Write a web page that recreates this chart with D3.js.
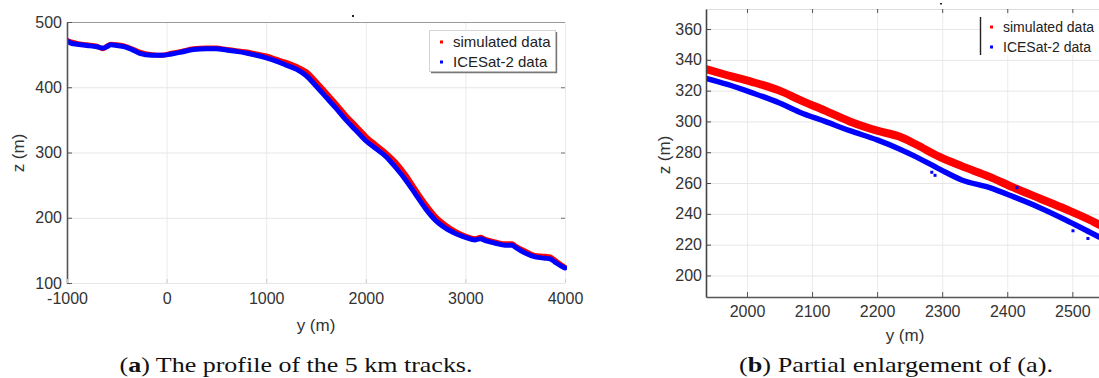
<!DOCTYPE html>
<html>
<head>
<meta charset="utf-8">
<script src="https://cdn.jsdelivr.net/npm/d3@7"></script>
<style>
	body { margin: 0; background: #fff; }
	svg { display: block; }
	svg text { font-family: 'Liberation Sans', Arial, sans-serif; }
	svg text.cap { font-family: 'Liberation Serif', 'Times New Roman', serif; }
</style>
</head>
<body>
<script>
// (a) full 5 km profile: along-track y (m) and elevation z (m)
const profileY = [-1000, -950, -900, -800, -700, -640, -600, -560, -500, -420,
	-350, -270, -150, -50, 50, 150, 270, 400, 500, 600,
	700, 810, 900, 1000, 1100, 1200, 1300, 1400, 1500, 1600,
	1700, 1800, 1900, 2000, 2100, 2200, 2300, 2400, 2500, 2600,
	2700, 2800, 2900, 3000, 3100, 3150, 3200, 3300, 3400, 3470,
	3500, 3600, 3700, 3800, 3850, 3900, 3950, 4000];
const profileIcesatZ = [471, 467, 466, 464, 462, 460, 462, 465, 464, 462,
	458, 452, 449, 449, 451, 454, 458, 459, 459, 457,
	455, 452, 449, 445, 440, 434, 428, 418, 402, 385,
	368, 350, 334, 318, 306, 294, 277, 258, 236, 214,
	196, 184, 176, 170, 166, 168, 165, 161, 158, 158,
	155, 146, 140, 138, 137, 132, 127, 123];
const profileSimZ = [472, 469, 467, 465, 463, 459, 463, 466, 465, 463,
	459, 454, 450, 449, 452, 455, 459, 460, 460, 458,
	456, 454, 451, 448, 443, 438, 432, 424, 409, 392,
	375, 357, 341, 325, 312, 300, 285, 266, 243, 221,
	202, 189, 179, 172, 168, 170, 167, 163, 160, 160,
	157, 149, 142, 141, 140, 135, 129, 124];

// (b) enlargement
const zoomY = [1937, 1970, 2005, 2050, 2081, 2120, 2158, 2200, 2235, 2260,
	2296, 2330, 2373, 2410, 2450, 2490, 2527, 2541];
const zoomIcesatZ = [328, 324, 319, 312, 306, 300, 294, 288, 282, 277,
	269, 262, 257, 251, 244, 236, 228, 225];
const zoomSimZ = [334, 330, 326, 320, 314, 307, 300, 294, 290, 285,
	277, 271, 264, 257, 250, 243, 236, 233];
const outlierY = [2284, 2289, 2415, 2501, 2524];
const outlierZ = [267, 265, 257, 229, 224];

const ticksA = { x: [-1000, 0, 1000, 2000, 3000, 4000], y: [100, 200, 300, 400, 500] };
const ticksB = { x: [2000, 2100, 2200, 2300, 2400, 2500], y: [200, 220, 240, 260, 280, 300, 320, 340, 360] };

const seriesNames = ['simulated data', 'ICESat-2 data'];
const RED = '#ff0000', BLUE = '#0000ff';

const width = 1099, height = 378;

const svg = d3.select('body').append('svg')
	.attr('width', width)
	.attr('height', height);

const fmt = d => String(d);

function grid(g, x, y, xt, yt, box) {
	g.append('g')
		.attr('transform', `translate(0,${box.bottom})`)
		.call(d3.axisBottom(x).tickValues(xt).tickSize(-(box.bottom - box.top)).tickFormat(''))
		.call(s => s.select('.domain').remove())
		.selectAll('line').attr('stroke', '#ebebeb');
	g.append('g')
		.attr('transform', `translate(${box.left},0)`)
		.call(d3.axisLeft(y).tickValues(yt).tickSize(-(box.right - box.left)).tickFormat(''))
		.call(s => s.select('.domain').remove())
		.selectAll('line').attr('stroke', '#e6e6e6');
}

function band(g, x, y, ys, zs, color, w) {
	const pts = ys.map((v, i) => [v, zs[i]]);
	g.append('path')
		.datum(pts)
		.attr('fill', 'none')
		.attr('stroke', color)
		.attr('stroke-width', w)
		.attr('stroke-linejoin', 'round')
		.attr('stroke-linecap', 'round')
		.attr('d', d3.line().x(d => x(d[0])).y(d => y(d[1])).curve(d3.curveMonotoneX));
}

function styleText(s, size) {
	s.selectAll('text')
		.attr('font-family', null)
		.attr('font-size', size)
		.attr('fill', '#333');
}

// ---------- panel (a) ----------
{
	const box = { left: 67, right: 565, top: 22, bottom: 283 };
	const x = d3.scaleLinear().domain([-1000, 4000]).range([box.left, box.right]);
	const y = d3.scaleLinear().domain([100, 500]).range([box.bottom, box.top]);
	const g = svg.append('g');

	grid(g, x, y, ticksA.x, ticksA.y, box);

	g.append('clipPath').attr('id', 'clipA').append('rect')
		.attr('x', box.left).attr('y', box.top)
		.attr('width', box.right - box.left + 2).attr('height', box.bottom - box.top);
	const data = g.append('g').attr('clip-path', 'url(#clipA)');
	band(data, x, y, profileY, profileSimZ, RED, 5);
	band(data, x, y, profileY, profileIcesatZ, BLUE, 5);

	// top border
	g.append('line')
		.attr('x1', box.left).attr('x2', box.right)
		.attr('y1', box.top + 0.5).attr('y2', box.top + 0.5)
		.attr('stroke', '#9a9a9a');

	// y axis
	g.append('g')
		.attr('transform', `translate(${box.left},0)`)
		.call(d3.axisLeft(y).tickValues(ticksA.y).tickFormat(fmt).tickSizeInner(-5).tickSizeOuter(0).tickPadding(5))
		.call(s => s.attr('font-family', null))
		.call(s => s.select('.domain').attr('stroke', '#555').attr('stroke-width', 1.6))
		.call(s => s.selectAll('line').attr('stroke', '#555'))
		.call(s => styleText(s, 16));

	// right side tick marks
	g.append('g')
		.attr('transform', `translate(${box.right},0)`)
		.call(d3.axisRight(y).tickValues(ticksA.y.slice(1, -1)).tickFormat('').tickSizeInner(-4).tickSizeOuter(0))
		.call(s => s.select('.domain').remove())
		.selectAll('line').attr('stroke', '#777');

	// x axis
	g.append('g')
		.attr('transform', `translate(0,${box.bottom})`)
		.call(d3.axisBottom(x).tickValues(ticksA.x).tickFormat(fmt).tickSizeInner(-4).tickSizeOuter(0).tickPadding(10))
		.call(s => s.attr('font-family', null))
		.call(s => s.select('.domain').remove())
		.call(s => s.selectAll('line').attr('stroke', '#ccc'))
		.call(s => styleText(s, 16));

	g.append('text')
		.attr('transform', 'translate(24,153) rotate(-90)')
		.attr('text-anchor', 'middle')
		.attr('font-size', 17).attr('fill', '#333')
		.text('z (m)');
	g.append('text')
		.attr('x', 316).attr('y', 331)
		.attr('text-anchor', 'middle')
		.attr('font-size', 17).attr('fill', '#333')
		.text('y (m)');

	// legend
	const lg = g.append('g');
	lg.append('rect')
		.attr('x', 429.5).attr('y', 30.5).attr('width', 126).attr('height', 41)
		.attr('fill', '#fff').attr('stroke', '#d4d4d4');
	lg.append('path')
		.attr('d', 'M431,72.5H556.5V32')
		.attr('fill', 'none').attr('stroke', '#777').attr('stroke-width', 1.4);
	seriesNames.forEach((name, i) => {
		const cy = 42 + i * 20;
		lg.append('rect')
			.attr('x', 440).attr('y', cy - 1.5).attr('width', 3).attr('height', 3)
			.attr('fill', i === 0 ? RED : BLUE);
		lg.append('text')
			.attr('x', 453).attr('y', cy).attr('dy', '0.35em')
			.attr('font-size', 15).attr('fill', '#222')
			.text(name);
	});

	svg.append('rect').attr('x', 352).attr('y', 15).attr('width', 2).attr('height', 2).attr('fill', '#222');
}

// ---------- panel (b) ----------
{
	const box = { left: 706, right: 1099, top: 9, bottom: 297 };
	const x = d3.scaleLinear().domain([1937, 2541]).range([box.left, box.right]);
	const y = d3.scaleLinear().domain([186, 373]).range([box.bottom, box.top]);
	const g = svg.append('g');

	grid(g, x, y, ticksB.x, ticksB.y, box);

	g.append('line')
		.attr('x1', box.left).attr('x2', box.right)
		.attr('y1', box.top + 0.5).attr('y2', box.top + 0.5)
		.attr('stroke', '#dcdcdc');

	g.append('clipPath').attr('id', 'clipB').append('rect')
		.attr('x', box.left).attr('y', box.top)
		.attr('width', box.right - box.left).attr('height', box.bottom - box.top);
	const data = g.append('g').attr('clip-path', 'url(#clipB)');
	band(data, x, y, zoomY, zoomSimZ, RED, 8);
	band(data, x, y, zoomY, zoomIcesatZ, BLUE, 5.5);
	data.selectAll('rect.out')
		.data(outlierY.map((v, i) => [v, outlierZ[i]]))
		.join('rect')
		.attr('class', 'out')
		.attr('x', d => x(d[0]) - 1.5).attr('y', d => y(d[1]) - 1.5)
		.attr('width', 3).attr('height', 3)
		.attr('fill', BLUE);

	// top ticks
	g.append('g')
		.attr('transform', `translate(0,${box.top})`)
		.call(d3.axisTop(x).tickValues(ticksB.x).tickFormat('').tickSizeInner(-4).tickSizeOuter(0))
		.call(s => s.select('.domain').remove())
		.selectAll('line').attr('stroke', '#555');

	g.append('g')
		.attr('transform', `translate(${box.left},0)`)
		.call(d3.axisLeft(y).tickValues(ticksB.y).tickFormat(fmt).tickSizeInner(-5).tickSizeOuter(0).tickPadding(4))
		.call(s => s.attr('font-family', null))
		.call(s => s.select('.domain').attr('stroke', '#444').attr('stroke-width', 1.6))
		.call(s => s.selectAll('line').attr('stroke', '#444'))
		.call(s => styleText(s, 16));

	g.append('g')
		.attr('transform', `translate(0,${box.bottom})`)
		.call(d3.axisBottom(x).tickValues(ticksB.x).tickFormat(fmt).tickSizeInner(-5).tickSizeOuter(0).tickPadding(9))
		.call(s => s.attr('font-family', null))
		.call(s => s.select('.domain').attr('stroke', '#555').attr('stroke-width', 1.6))
		.call(s => s.selectAll('line').attr('stroke', '#555'))
		.call(s => styleText(s, 16));

	g.append('text')
		.attr('transform', 'translate(670,155) rotate(-90)')
		.attr('text-anchor', 'middle')
		.attr('font-size', 17).attr('fill', '#333')
		.text('z (m)');
	g.append('text')
		.attr('x', 905).attr('y', 341)
		.attr('text-anchor', 'middle')
		.attr('font-size', 17).attr('fill', '#333')
		.text('y (m)');

	const lg = g.append('g');
	lg.append('rect')
		.attr('x', 980).attr('y', 17).attr('width', 130).attr('height', 38)
		.attr('fill', '#fff');
	lg.append('line')
		.attr('x1', 980.5).attr('x2', 980.5).attr('y1', 17).attr('y2', 55)
		.attr('stroke', '#222').attr('stroke-width', 1.4);
	seriesNames.forEach((name, i) => {
		const cy = 27 + i * 20;
		lg.append('rect')
			.attr('x', 990).attr('y', cy - 1.5).attr('width', 3).attr('height', 3)
			.attr('fill', i === 0 ? RED : BLUE);
		lg.append('text')
			.attr('x', 1003).attr('y', cy).attr('dy', '0.35em')
			.attr('font-size', 14).attr('fill', '#222')
			.text(name);
	});

	svg.append('rect').attr('x', 940).attr('y', 3).attr('width', 2).attr('height', 1.5).attr('fill', '#222');
}

// ---------- captions ----------
function caption(cx, letter, rest, len) {
	const t = svg.append('text')
		.attr('class', 'cap')
		.attr('x', cx).attr('y', 372)
		.attr('text-anchor', 'middle')
		.attr('font-size', 21).attr('fill', '#111')
		.attr('textLength', len).attr('lengthAdjust', 'spacingAndGlyphs');
	t.append('tspan').text('(');
	t.append('tspan').attr('font-weight', 'bold').text(letter);
	t.append('tspan').text(') ' + rest);
}
caption(296, 'a', 'The profile of the 5 km tracks.', 353);
caption(896, 'b', 'Partial enlargement of (a).', 314);
</script>
</body>
</html>
